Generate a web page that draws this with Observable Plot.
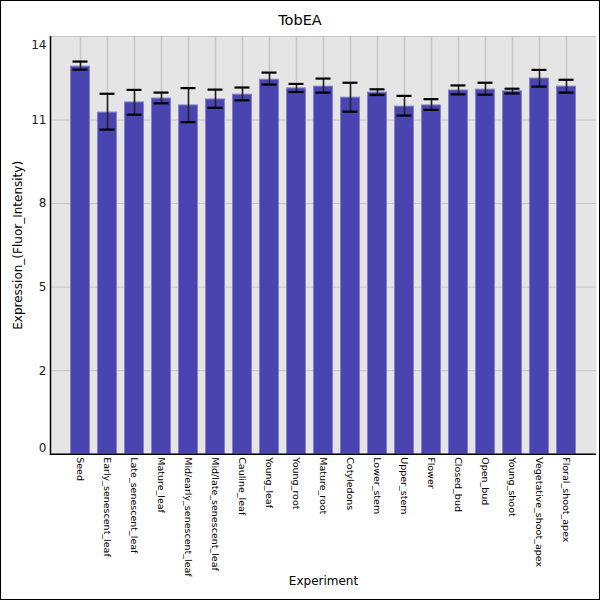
<!DOCTYPE html>
<html>
<head>
<meta charset="utf-8">
<script src="https://cdn.jsdelivr.net/npm/d3@7"></script>
<script src="https://cdn.jsdelivr.net/npm/@observablehq/plot@0.6"></script>
<style>
  html, body { margin: 0; padding: 0; background: #fff; }
  #wrap { position: relative; width: 600px; height: 600px; overflow: hidden; font-family: "DejaVu Sans", sans-serif; }
  #title { height: 36px; line-height: 40px; text-align: center; font-size: 14.5px; color: #000; }
  #border { position: absolute; left: 0; top: 0; width: 600px; height: 600px; box-sizing: border-box; border: 1px solid #000; pointer-events: none; }
  svg { display: block; }
</style>
</head>
<body>
<div id="wrap">
  <div id="title">TobEA</div>
  <div id="chart"></div>
  <div id="border"></div>
</div>
<script>
const experiments = ["Seed","Early_senescent_leaf","Late_senescent_leaf","Mature_leaf","Mid/early_senescent_leaf","Mid/late_senescent_leaf","Cauline_leaf","Young_leaf","Young_root","Mature_root","Cotyledons","Lower_stem","Upper_stem","Flower","Closed_bud","Open_bud","Young_shoot","Vegetative_shoot_apex","Floral_shoot_apex"];
const means = [12.99,11.45,11.79,11.92,11.69,11.89,12.05,12.55,12.26,12.32,11.95,12.12,11.65,11.69,12.19,12.22,12.16,12.59,12.32];
const errHigh = [13.16,12.08,12.21,12.12,12.27,12.22,12.29,12.79,12.41,12.59,12.45,12.23,12.01,11.90,12.36,12.45,12.25,12.88,12.55];
const errLow = [12.89,10.88,11.38,11.76,11.13,11.61,11.86,12.39,12.14,12.12,11.48,12.04,11.35,11.54,12.06,12.05,12.09,12.32,12.12];
const yTicks = [0, 2.8, 5.6, 8.4, 11.2, 14];

const data = experiments.map((e, i) => ({experiment: e, mean: means[i], hi: errHigh[i], lo: errLow[i]}));
const midTicks = yTicks.slice(1, -1);

const plot = Plot.plot({
  width: 600,
  height: 564,
  marginLeft: 50,
  marginRight: 4,
  marginTop: 0,
  marginBottom: 146.3,
  style: {fontFamily: "DejaVu Sans, sans-serif", background: "transparent"},
  x: {domain: experiments, paddingInner: 0.267, paddingOuter: 0.633, label: null},
  y: {domain: [0, 14], label: null},
  marks: [
    Plot.frame({fill: "#e5e5e5", stroke: null}),
    Plot.gridY(yTicks, {stroke: "#c6c6c6", strokeOpacity: 1, strokeWidth: 1}),
    Plot.gridX({stroke: "#c6c6c6", strokeOpacity: 1, strokeWidth: 1.5}),
    Plot.barY(data, {x: "experiment", y: "mean", fill: "#4a44b0", stroke: "#8580cc", strokeWidth: 1, insetLeft: 0.5, insetRight: 0.5}),
    Plot.ruleX(data, {x: "experiment", y1: "lo", y2: "hi", stroke: "#222", strokeWidth: 1.6}),
    Plot.tickY(data, {x: "experiment", y: "hi", stroke: "#000", strokeWidth: 2.2, insetLeft: 2.5, insetRight: 2.5}),
    Plot.tickY(data, {x: "experiment", y: "lo", stroke: "#000", strokeWidth: 2.2, insetLeft: 2.5, insetRight: 2.5}),
    Plot.axisY(midTicks, {tickSize: 0, tickPadding: 4, fontSize: 12, tickFormat: d => Math.floor(d), label: null, fill: "#222"}),
    Plot.text([yTicks[yTicks.length - 1]], {y: d => d, frameAnchor: "left", dx: -4, dy: 9, textAnchor: "end", fontSize: 12, text: d => String(Math.floor(d)), fill: "#222"}),
    Plot.text([yTicks[0]], {y: d => d, frameAnchor: "left", dx: -4, dy: -6, textAnchor: "end", fontSize: 12, text: d => String(Math.floor(d)), fill: "#222"}),
    Plot.axisX({tickSize: 0, tickPadding: 3, tickRotate: 90, fontSize: 9.5, label: null, fill: "#000"}),
    Plot.ruleY([0], {stroke: "#000", strokeWidth: 1.5}),
    Plot.frame({anchor: "left", stroke: "#000", strokeWidth: 1.5}),
    Plot.text(["Expression_(Fluor_Intensity)"], {frameAnchor: "left", dx: -32, rotate: -90, fontSize: 12, fill: "#000", textAnchor: "middle"}),
    Plot.text(["Experiment"], {frameAnchor: "bottom", dy: 131, fontSize: 12, fill: "#000", textAnchor: "middle"})
  ]
});
document.getElementById("chart").appendChild(plot);
</script>
</body>
</html>
